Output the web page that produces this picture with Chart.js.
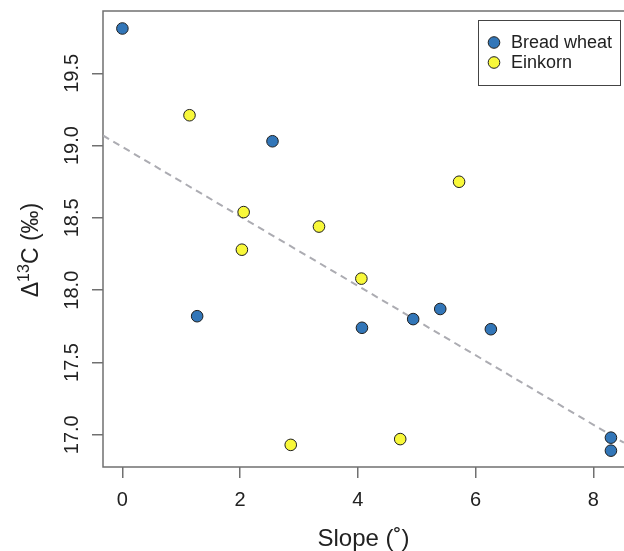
<!DOCTYPE html>
<html><head><meta charset="utf-8">
<script src="https://cdn.jsdelivr.net/npm/chart.js@4/dist/chart.umd.min.js"></script>
<style>html,body{margin:0;padding:0;background:#fff;overflow:hidden}#wrap{width:624px;height:551px;position:relative;overflow:hidden}</style>
</head><body><div id="wrap"><canvas id="c" width="640" height="551"></canvas></div>
<script>
const breadSlope = [0, 2.55, 1.27, 4.07, 4.94, 5.40, 6.26, 8.30, 8.30];
const breadD13C = [19.81, 19.03, 17.82, 17.74, 17.80, 17.87, 17.73, 16.98, 16.89];
const einkornSlope = [1.14, 2.06, 2.03, 3.34, 4.06, 5.72, 2.86, 4.72];
const einkornD13C = [19.21, 18.54, 18.28, 18.44, 18.08, 18.75, 16.93, 16.97];
const fitSlope = [-0.33, 8.52];
const fitD13C = [19.07, 16.945];
const xTicks = [0, 2, 4, 6, 8];
const yTicks = [17.0, 17.5, 18.0, 18.5, 19.0, 19.5];
const seriesNames = ['Bread wheat', 'Einkorn'];
const xTitle = 'Slope (˚)';

const FONT = 'Liberation Sans, Arial, sans-serif';
const BLUE = '#3276b8', YELLOW = '#f8f83a', EDGE = '#1e1e1e', AXIS = '#707070', TXT = '#222';

const toPts = (xs, ys) => xs.map((x, i) => ({x: x, y: ys[i]}));

const deco = {
  id: 'deco',
  beforeDatasetsDraw(chart) {
    const {ctx, chartArea: a} = chart;
    ctx.save();
    ctx.strokeStyle = AXIS; ctx.lineWidth = 1.5;
    ctx.beginPath();
    ctx.moveTo(chart.width, a.top); ctx.lineTo(a.left, a.top);
    ctx.lineTo(a.left, a.bottom); ctx.lineTo(chart.width, a.bottom);
    ctx.stroke();
    ctx.restore();
  },
  afterDraw(chart) {
    const {ctx} = chart;
    const ys = chart.scales.y;
    ctx.save();
    ctx.fillStyle = TXT;
    ctx.font = '20px ' + FONT;
    ys.ticks.forEach(t => {
      const py = ys.getPixelForValue(t.value);
      ctx.save();
      ctx.translate(78, py);
      ctx.rotate(-Math.PI / 2);
      ctx.textAlign = 'center'; ctx.textBaseline = 'alphabetic';
      ctx.fillText(t.value.toFixed(1), 0, 0);
      ctx.restore();
    });
    // y title with superscript
    const big = '23px ' + FONT, small = '16px ' + FONT;
    ctx.font = big; const w1 = ctx.measureText('Δ').width;
    ctx.font = small; const w2 = ctx.measureText('13').width;
    ctx.font = big; const w3 = ctx.measureText('C (‰)').width;
    const total = w1 + w2 + w3;
    ctx.save();
    ctx.translate(38, 250);
    ctx.rotate(-Math.PI / 2);
    ctx.textAlign = 'left'; ctx.textBaseline = 'alphabetic';
    let x0 = -total / 2;
    ctx.font = big; ctx.fillText('Δ', x0, 0); x0 += w1;
    ctx.font = small; ctx.fillText('13', x0, -9); x0 += w2;
    ctx.font = big; ctx.fillText('C (‰)', x0, 0);
    ctx.restore();
    // legend
    ctx.strokeStyle = '#444'; ctx.lineWidth = 1;
    ctx.strokeRect(478.5, 20.5, 142, 65);
    const cols = [BLUE, YELLOW];
    seriesNames.forEach((n, i) => {
      const cy = 42.5 + i * 20;
      ctx.beginPath(); ctx.arc(494, cy, 5.8, 0, Math.PI * 2);
      ctx.fillStyle = cols[i]; ctx.fill();
      ctx.strokeStyle = EDGE; ctx.lineWidth = 1; ctx.stroke();
      ctx.fillStyle = TXT; ctx.font = '18px ' + FONT;
      ctx.textAlign = 'left'; ctx.textBaseline = 'middle';
      ctx.fillText(n, 511, cy + 1);
    });
    ctx.restore();
  }
};

new Chart(document.getElementById('c'), {
  type: 'scatter',
  data: {
    datasets: [
      {label: seriesNames[0], data: toPts(breadSlope, breadD13C), backgroundColor: BLUE, borderColor: EDGE, borderWidth: 1, pointRadius: 5.8},
      {label: seriesNames[1], data: toPts(einkornSlope, einkornD13C), backgroundColor: YELLOW, borderColor: EDGE, borderWidth: 1, pointRadius: 5.8},
      {label: 'fit', data: toPts(fitSlope, fitD13C), showLine: true, pointRadius: 0, borderColor: '#acacb2', borderWidth: 2, borderDash: [7, 5], fill: false}
    ]
  },
  options: {
    responsive: false, animation: false, devicePixelRatio: 1,
    layout: {padding: {top: 11, left: 0, right: 16, bottom: 0}},
    plugins: {legend: {display: false}, tooltip: {enabled: false}},
    scales: {
      x: {
        type: 'linear', position: 'bottom', min: -0.3295, max: 8.522,
        afterBuildTicks: s => { s.ticks = xTicks.map(v => ({value: v})); },
        afterFit: s => { s.height = 84; s.paddingRight = 0; s.paddingLeft = 0; },
        grid: {display: true, drawOnChartArea: false, drawTicks: true, tickLength: 11, color: AXIS, lineWidth: 1.5},
        border: {display: false},
        ticks: {font: {family: FONT, size: 20}, color: TXT, padding: 10, maxRotation: 0, autoSkip: false, callback: v => String(v)},
        title: {display: true, text: xTitle, font: {family: FONT, size: 24, lineHeight: 1.0}, color: TXT, padding: {top: 4, bottom: 0}}
      },
      y: {
        type: 'linear', position: 'left', min: 16.777, max: 19.931,
        afterBuildTicks: s => { s.ticks = yTicks.map(v => ({value: v})); },
        afterFit: s => { s.width = 103; s.paddingTop = 0; s.paddingBottom = 0; },
        grid: {display: true, drawOnChartArea: false, drawTicks: true, tickLength: 11, color: AXIS, lineWidth: 1.5},
        border: {display: false},
        ticks: {display: false}
      }
    }
  },
  plugins: [deco]
});
</script></body></html>
